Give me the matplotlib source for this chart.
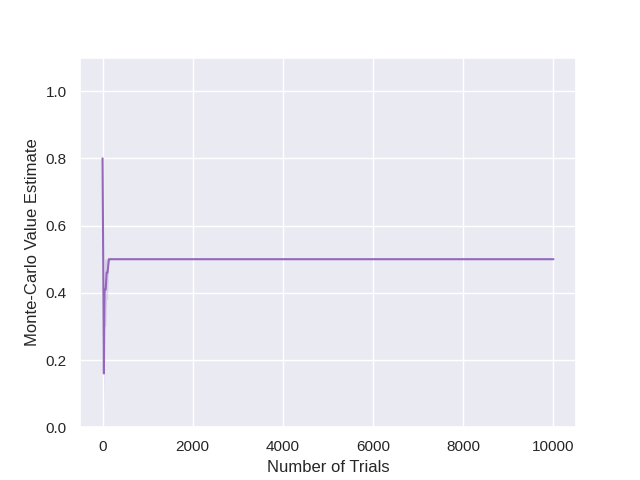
import numpy as np
import seaborn as sns
from matplotlib import pyplot as plt

sns.set_theme(style="darkgrid")
plt.rcParams["font.family"] = ["Liberation Sans", "DejaVu Sans"]

# step points of the running estimate (trials, mean, band low, band high)
trials = [0, 15, 30, 40, 45, 70, 90, 110, 140, 160, 10000]
estimate = [0.8, 0.5, 0.16, 0.36, 0.41, 0.41, 0.46, 0.46, 0.5, 0.5, 0.5]
band_low = [0.8, 0.3, 0.06, 0.26, 0.3, 0.3, 0.38, 0.38, 0.5, 0.5, 0.5]
band_high = [0.8, 0.6, 0.28, 0.44, 0.5, 0.5, 0.5, 0.5, 0.5, 0.5, 0.5]

fig, ax = plt.subplots(figsize=(6.4, 4.8), dpi=100)
ax.fill_between(trials, band_low, band_high, color="#9467bd", alpha=0.2, linewidth=0)
ax.plot(trials, estimate, color="#9467bd", linewidth=1.5)

ax.set_xlim(-500, 10500)
ax.set_ylim(0, 1.1)
ax.set_yticks(np.arange(0, 1.01, 0.2))
ax.set_xlabel("Number of Trials")
ax.set_ylabel("Monte-Carlo Value Estimate")

plt.savefig("out.png")
